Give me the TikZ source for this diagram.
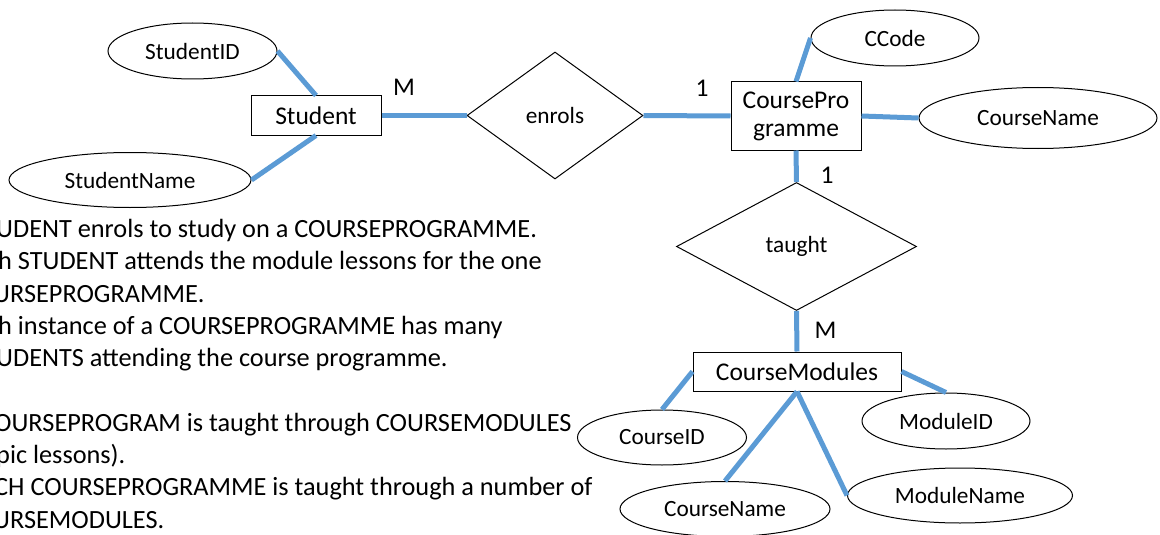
\documentclass[tikz,border=0pt]{standalone}
\usepackage{fontspec}
\setmainfont{Carlito}
\usetikzlibrary{shapes.geometric}
\definecolor{linkblue}{HTML}{5B9BD5}
\newcommand\attrfont{\fontsize{23.3}{28}\selectfont}
\newcommand\entfont{\fontsize{25.5}{28}\selectfont}
\newcommand\bodyfont{\fontsize{26.3}{32.3}\selectfont}
\begin{document}
\begin{tikzpicture}[x=1pt,y=-1pt,
  entity/.style={draw=black, line width=1pt, rectangle, inner sep=0pt, font=\entfont, align=center},
  attr/.style={draw=black, line width=1pt, ellipse, inner sep=0pt, font=\attrfont},
  rel/.style={draw=black, line width=1pt, diamond, inner sep=0pt, font=\attrfont},
  card/.style={inner sep=0pt, font=\entfont},
  body/.style={anchor=base west, inner sep=0pt, font=\bodyfont},
  link/.style={draw=linkblue, line width=5pt}]
\useasboundingbox (0,0) rectangle (1160,535);
\clip (0,0) rectangle (1160,535);

% entities
\node[entity, minimum width=130pt, minimum height=39pt] (stu) at (316,115.5) {Student};
\node[entity, minimum width=130pt, minimum height=68pt] (cp) at (796,116) {CoursePro\\gramme};
\node[entity, minimum width=208pt, minimum height=39pt] (cm) at (797,371.5) {CourseModules};

% relationships
\node[rel, minimum width=176pt, minimum height=127pt] (enr) at (555,115.5) {enrols};
\node[rel, minimum width=240pt, minimum height=128pt] (tau) at (796.5,246.5) {taught};

% attributes
\node[attr, minimum width=169pt, minimum height=56pt] (sid) at (192.5,51) {StudentID};
\node[attr, minimum width=242pt, minimum height=55pt] (sname) at (130,180) {StudentName};
\node[attr, minimum width=168pt, minimum height=56pt] (cc) at (895,38) {CCode};
\node[attr, minimum width=238pt, minimum height=61pt] (cn) at (1038,118) {CourseName};
\node[attr, minimum width=169pt, minimum height=55pt] (cid) at (662,437.5) {CourseID};
\node[attr, minimum width=168pt, minimum height=56pt] (mid) at (946,421) {ModuleID};
\node[attr, minimum width=210pt, minimum height=55pt] (cn2) at (725,509) {CourseName};
\node[attr, minimum width=225pt, minimum height=55pt] (mn) at (960,495.5) {ModuleName};

% cardinalities
\node[card] (m1) at (404,87) {M};
\node[card] (o1) at (702,88) {1};
\node[card] (o2) at (827,175) {1};
\node[card] (m2) at (825.5,330) {M};

% connectors
\draw[link] (sid.east) -- (stu.north);
\draw[link] (sname.east) -- (stu.south);
\draw[link] (stu.east) -- (enr.west);
\draw[link] (enr.east) -- (cp.west);
\draw[link] (cc.west) -- (cp.north);
\draw[link] (cp.east) -- (cn.west);
\draw[link] (cp.south) -- (tau.north);
\draw[link] (tau.south) -- (cm.north);
\draw[link] (cm.west) -- (cid.north);
\draw[link] (cm.south) -- (cn2.north);
\draw[link] (cm.south) -- (mn.west);
\draw[link] (cm.east) -- (mid.north);

% description text
\node[body] (l1) at (-4,237.5) {UDENT enrols to study on a COURSEPROGRAMME.};
\node[body] (l2) at (-2,269.8) {h STUDENT attends the module lessons for the one};
\node[body] (l3) at (-7,302.1) {URSEPROGRAMME.};
\node[body] (l4) at (-2,334.4) {h instance of a COURSEPROGRAMME has many};
\node[body] (l5) at (-4,366.7) {UDENTS attending the course programme.};
\node[body] (l7) at (-6,431.3) {OURSEPROGRAM is taught through COURSEMODULES};
\node[body] (l8) at (-4,463.6) {pic lessons).};
\node[body] (l9) at (-6,495.9) {CH COURSEPROGRAMME is taught through a number of};
\node[body] (l10) at (-7,528.2) {URSEMODULES.};
\end{tikzpicture}
\end{document}
